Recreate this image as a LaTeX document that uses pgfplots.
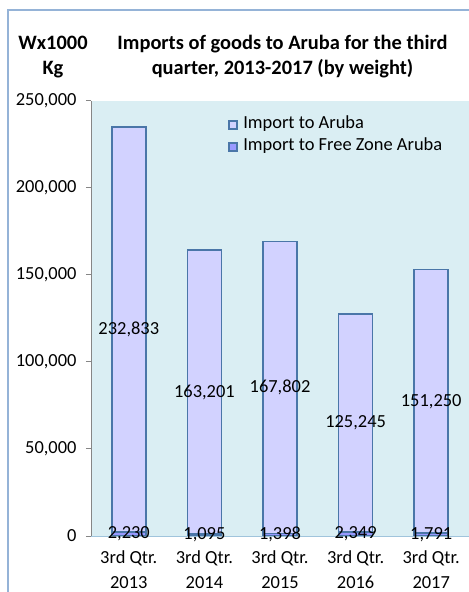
\documentclass[border=0pt]{standalone}
\usepackage{fontspec}
\setmainfont{Carlito}
\usepackage{pgfplots}
\pgfplotsset{compat=1.18}
\definecolor{bg}{HTML}{DAEEF3}
\definecolor{barA}{HTML}{D2D2FF}
\definecolor{barF}{HTML}{9999FF}
\definecolor{edge}{HTML}{4A76A8}
\definecolor{framec}{HTML}{95B3D7}
\definecolor{axgray}{HTML}{868686}
\definecolor{xline}{HTML}{A0C4DC}
\newcommand{\tkfont}{\fontsize{18.5}{26}\selectfont}
\newcommand{\xkfont}{\fontsize{18.5}{25}\selectfont}
\begin{document}
\begin{tikzpicture}
\useasboundingbox (0bp,0bp) rectangle (469bp,592bp);
\draw[framec, line width=1.2bp] (8bp,0bp) -- (8bp,582bp) -- (469bp,582bp);
\begin{axis}[
  at={(91bp,56bp)}, anchor=south west, scale only axis,
  width=378bp, height=435bp,
  ybar stacked, bar width=34bp,
  xmin=-0.5, xmax=4.5, ymin=0, ymax=250000,
  axis background/.style={fill=bg},
  axis x line*=bottom, axis y line*=left,
  x axis line style={draw=xline, line width=1bp, -},
  y axis line style={draw=axgray, line width=1bp, -},
  xtick={0,1,2,3,4},
  xticklabels={{3rd Qtr.\\2013},{3rd Qtr.\\2014},{3rd Qtr.\\2015},{3rd Qtr.\\2016},{3rd Qtr.\\2017}},
  xtick style={draw=none},
  xticklabel style={align=center, font=\xkfont, yshift=-6bp},
  ytick={0,50000,100000,150000,200000,250000},
  ytick style={draw=axgray, line width=1bp},
  tick align=outside, major tick length=5bp,
  yticklabel style={font=\tkfont, xshift=-6bp},
  scaled y ticks=false,
  /pgf/number format/.cd, fixed, precision=0, 1000 sep={,}, assume math mode=true,
  /pgfplots/.cd,
  legend image code/.code={\draw[#1] (0bp,-4bp) rectangle (8bp,4bp); \path[draw=none,fill=none] (0bp,0bp) -- (13bp,0bp);},
  reverse legend,
  legend cell align=left,
  legend style={at={(0.362,0.965)}, anchor=north west, draw=none, fill=none,
    font=\tkfont, inner sep=0pt, row sep=5bp,
    nodes={inner sep=1.5bp, text height=11bp, text depth=3bp}},
]
\addplot[fill=barF, draw=edge, line width=1.5bp] coordinates {(0,2230) (1,1095) (2,1398) (3,2349) (4,1791)};
\addlegendentry{Import to Free Zone Aruba}
\addplot[fill=barA, draw=edge, line width=1.5bp] coordinates {(0,232833) (1,163201) (2,167802) (3,125245) (4,151250)};
\addlegendentry{Import to Aruba}
\end{axis}
\begin{axis}[
  at={(91bp,56bp)}, anchor=south west, scale only axis,
  width=378bp, height=435bp,
  xmin=-0.5, xmax=4.5, ymin=0, ymax=250000,
  hide axis, clip=false,
]
\addplot[draw=none, mark=none, nodes near coords, point meta=explicit symbolic,
  every node near coord/.style={anchor=center, font=\tkfont, inner sep=0pt}]
  coordinates {(0,118646.5) [232,833] (1,82695.5) [163,201] (2,85299) [167,802] (3,64971.5) [125,245] (4,77416) [151,250]};
\addplot[draw=none, mark=none, nodes near coords, point meta=explicit symbolic,
  every node near coord/.style={anchor=center, font=\tkfont, inner sep=0pt}]
  coordinates {(0,1115) [2,230] (1,547.5) [1,095] (2,699) [1,398] (3,1174.5) [2,349] (4,895.5) [1,791]};
\end{axis}
\node[font=\fontsize{20.5}{25}\selectfont\bfseries, anchor=base] at (282.5bp,542.3bp) {Imports of goods to Aruba for the third};
\node[font=\fontsize{20.5}{25}\selectfont\bfseries, anchor=base] at (282.5bp,517.3bp) {quarter, 2013-2017 (by weight)};
\node[font=\fontsize{20.5}{25}\selectfont\bfseries, anchor=base] at (53bp,542.3bp) {Wx1000};
\node[font=\fontsize{20.5}{25}\selectfont\bfseries, anchor=base] at (53bp,517.3bp) {Kg};
\end{tikzpicture}
\end{document}
